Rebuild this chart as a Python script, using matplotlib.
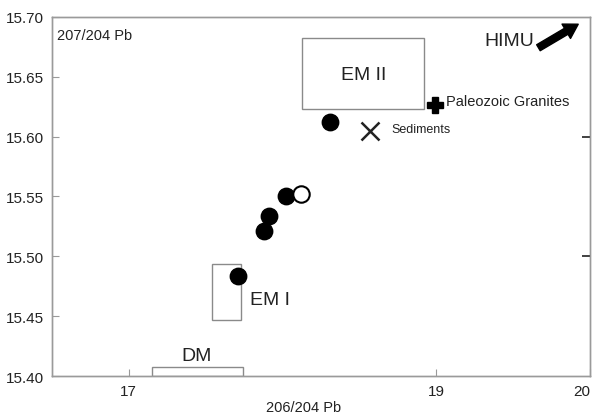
import matplotlib.pyplot as plt
from matplotlib.patches import Rectangle

plt.rcParams['font.family'] = ['Liberation Sans', 'DejaVu Sans']

# samples (206/204 Pb, 207/204 Pb)
filled_x = [17.71, 17.88, 17.91, 18.02, 18.31]
filled_y = [15.484, 15.521, 15.534, 15.550, 15.612]
open_x = [18.12]
open_y = [15.552]

sed_x, sed_y = 18.57, 15.605
gran_x, gran_y = 18.99, 15.626

# reservoir boxes: name, x0, x1, y0, y1
boxes = [
    ('EM II', 18.13, 18.92, 15.623, 15.682),
    ('EM I', 17.54, 17.73, 15.447, 15.494),
    ('DM', 17.15, 17.74, 15.400, 15.408),
]

xticks = [17, 19, 20]
yticks = [15.40, 15.45, 15.50, 15.55, 15.60, 15.65, 15.70]
right_ticks = [15.50, 15.60]

gray = '#9a9a9a'
txt = '#222222'

fig = plt.figure(figsize=(5.97, 4.14), dpi=100)
ax = fig.add_axes([0.087, 0.089, 0.901, 0.868])

for name, x0, x1, y0, y1 in boxes:
    ax.add_patch(Rectangle((x0, y0), x1 - x0, y1 - y0, fill=False,
                           edgecolor='#8a8a8a', linewidth=1.0))

ax.text(18.53, 15.652, 'EM II', fontsize=14, color=txt, ha='center', va='center')
ax.text(17.79, 15.464, 'EM I', fontsize=14, color=txt, ha='left', va='center')
ax.text(17.44, 15.417, 'DM', fontsize=14, color=txt, ha='center', va='center')

ax.scatter(filled_x, filled_y, s=140, color='black', zorder=3)
ax.scatter(open_x, open_y, s=140, facecolor='white', edgecolor='black',
           linewidth=1.5, zorder=3)
ax.plot(sed_x, sed_y, marker='x', markersize=13, markeredgewidth=1.8,
        color='#222222', linestyle='None')
ax.plot(gran_x, gran_y, marker='P', markersize=11, color='black', linestyle='None')

ax.text(sed_x + 0.14, sed_y + 0.001, 'Sediments', fontsize=9, color=txt, va='center')
ax.text(gran_x + 0.075, gran_y + 0.004, 'Paleozoic Granites', fontsize=10.5,
        color=txt, va='center')

ax.annotate('', xy=(19.94, 15.695), xytext=(19.65, 15.673),
            arrowprops=dict(arrowstyle='simple,head_width=1.2,head_length=1.0,tail_width=0.5',
                            color='black'))
ax.text(19.64, 15.680, 'HIMU', fontsize=14, color=txt, ha='right', va='center')

ax.text(16.535, 15.685, '207/204 Pb', fontsize=10.5, color=txt, va='center')

ax.set_xlim(16.5, 20)
ax.set_ylim(15.40, 15.70)
ax.set_xticks(xticks)
ax.set_xticklabels([str(t) for t in xticks])
ax.get_xticklabels()[-1].set_horizontalalignment('right')
ax.set_yticks(yticks)
ax.set_yticklabels(['%.2f' % t for t in yticks])
ax.set_xlabel('206/204 Pb', fontsize=10.5, color=txt)
ax.xaxis.set_label_coords(0.467, -0.065)

ax.tick_params(direction='in', length=5, color=gray, labelsize=11,
               labelcolor=txt, pad=6)

ax2 = ax.twinx()
ax2.set_ylim(ax.get_ylim())
ax2.set_yticks(right_ticks)
ax2.tick_params(axis='y', direction='in', length=6, width=1.3, color='#333333',
                labelright=False)

for a in (ax, ax2):
    for s in a.spines.values():
        s.set_color(gray)
        s.set_linewidth(1.0)

fig.savefig('out.png', dpi=100)
